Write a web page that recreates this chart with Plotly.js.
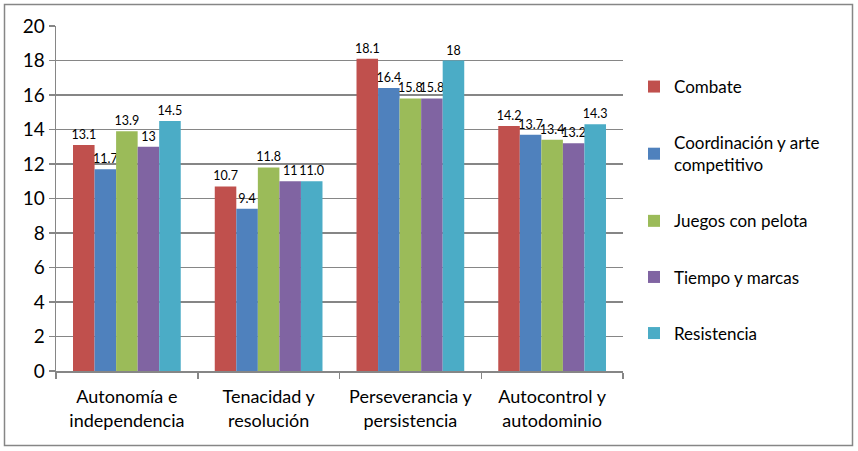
<!DOCTYPE html>
<html>
<head>
<meta charset="utf-8">
<script src="https://cdn.plot.ly/plotly-3.0.1.min.js"></script>
<style>
html,body{margin:0;padding:0;background:#fff;}
#chart{width:858px;height:451px;}
</style>
</head>
<body>
<div id="chart"></div>
<script>
const categories = ["Autonomía e<br>independencia", "Tenacidad y<br>resolución", "Perseverancia y<br>persistencia", "Autocontrol y<br>autodominio"];
const seriesNames = ["Combate", "Coordinación y arte<br>competitivo", "Juegos con pelota", "Tiempo y marcas", "Resistencia"];
const combate = [13.1, 10.7, 18.1, 14.2];
const coordinacion = [11.7, 9.4, 16.4, 13.7];
const juegos = [13.9, 11.8, 15.8, 13.4];
const tiempo = [13.0, 11.0, 15.8, 13.2];
const resistencia = [14.5, 11.0, 18.0, 14.3];
const combateLabels = ["13.1", "10.7", "18.1", "14.2"];
const coordinacionLabels = ["11.7", "9.4", "16.4", "13.7"];
const juegosLabels = ["13.9", "11.8", "15.8", "13.4"];
const tiempoLabels = ["13", "11", "15.8", "13.2"];
const resistenciaLabels = ["14.5", "11.0", "18", "14.3"];
const yTicks = [0, 2, 4, 6, 8, 10, 12, 14, 16, 18, 20];

const colors = ["#C0504D", "#4F81BD", "#9BBB59", "#8064A2", "#4BACC6"];
const values = [combate, coordinacion, juegos, tiempo, resistencia];
const labels = [combateLabels, coordinacionLabels, juegosLabels, tiempoLabels, resistenciaLabels];
const FONT = "Lato, sans-serif";

const traces = values.map((v, i) => ({
  type: "bar",
  name: seriesNames[i],
  x: categories,
  y: v,
  text: labels[i],
  textposition: "outside",
  constraintext: "none",
  cliponaxis: false,
  textfont: {family: FONT, size: 12.5, color: "#000"},
  marker: {color: colors[i]},
  legendgroup: "g" + i
}));

const W = 858, H = 451, ML = 56, MR = 235, MT = 26, MB = 80;
const pw = W - ML - MR, ph = H - MT - MB;
const px2x = p => (p - ML) / pw;
const px2y = p => (H - MB - p) / ph;

const layout = {
  width: W, height: H,
  margin: {l: ML, r: MR, t: MT, b: MB, pad: 0},
  paper_bgcolor: "#fff",
  plot_bgcolor: "#fff",
  font: {family: FONT, color: "#000"},
  barmode: "group",
  bargap: 0.24,
  bargroupgap: 0,
  showlegend: true,
  legend: {
    x: px2x(634), y: px2y(69), xanchor: "left", yanchor: "top",
    font: {family: FONT, size: 17, color: "#000"},
    tracegroupgap: 31,
    itemwidth: 30,
    traceorder: "grouped"
  },
  xaxis: {
    type: "category",
    showgrid: false,
    showline: true, linecolor: "#868686", linewidth: 1.5,
    ticks: "outside", tickson: "boundaries", ticklen: 6, tickcolor: "#868686", tickwidth: 1.5,
    tickfont: {family: FONT, size: 18, color: "#000"},
    ticklabelstandoff: 9,
    fixedrange: true
  },
  yaxis: {
    range: [0, 20],
    tickvals: yTicks,
    showgrid: true, gridcolor: "#868686", gridwidth: 1.5,
    showline: true, linecolor: "#868686", linewidth: 1.5,
    ticks: "outside", ticklen: 6, tickcolor: "#868686", tickwidth: 1.5,
    tickfont: {family: FONT, size: 19, color: "#000"},
    zeroline: false,
    fixedrange: true
  },
  shapes: [{
    type: "rect", xref: "paper", yref: "paper",
    x0: px2x(4.5), x1: px2x(852.5), y0: px2y(445.5), y1: px2y(4.5),
    line: {color: "#868686", width: 1.5}, fillcolor: "rgba(0,0,0,0)", layer: "below"
  }]
};

Plotly.newPlot("chart", traces, layout, {staticPlot: true, displayModeBar: false});
</script>
</body>
</html>
